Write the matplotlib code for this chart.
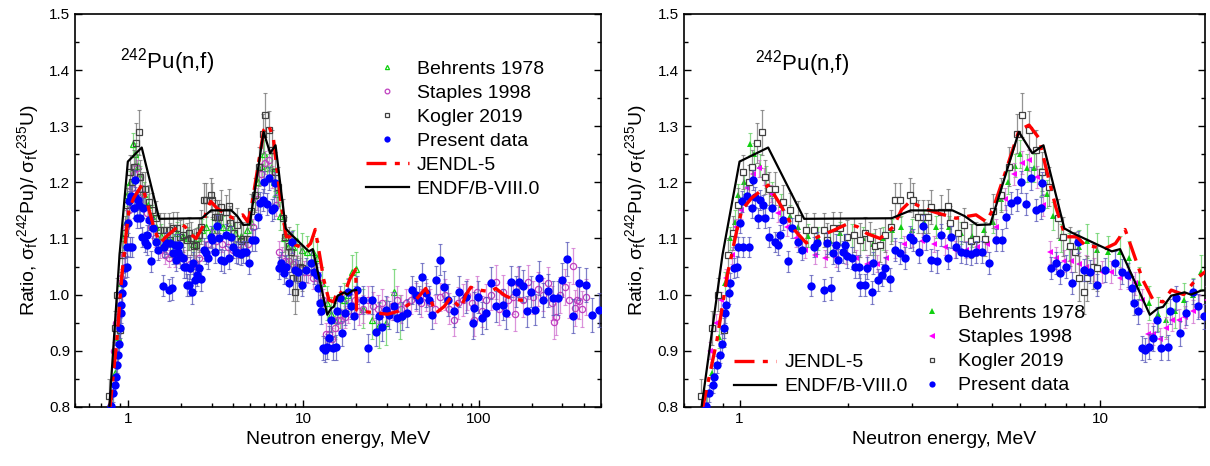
import matplotlib
matplotlib.use("Agg")
import matplotlib.pyplot as plt
import matplotlib.ticker as mticker
import numpy as np

plt.rcParams.update({
    "font.family": ["Liberation Sans", "DejaVu Sans"],
    "mathtext.fontset": "custom",
    "mathtext.rm": "Liberation Sans",
    "mathtext.it": "Liberation Sans:italic",
    "mathtext.bf": "Liberation Sans:bold",
})

# ── data: (energy MeV, ratio, uncertainty) ──────────────────────────────
PRESENT = [
    (0.805, 0.802, .015), (0.822, 0.824, .015), (0.845, 0.839, .015), (0.852, 0.854, .015),
    (0.866, 0.875, .015), (0.881, 0.893, .015), (0.894, 0.912, .018), (0.904, 0.940, .018),
    (0.913, 0.967, .018), (0.919, 0.982, .018), (0.932, 1.002, .018), (0.943, 1.020, .018),
    (0.963, 1.047, .018), (0.983, 1.050, .018), (0.988, 1.085, .018), (1.004, 1.127, .018),
    (1.015, 1.166, .018), (1.025, 1.085, .018), (1.047, 1.176, .018), (1.059, 1.085, .018),
    (1.081, 1.154, .018), (1.093, 1.204, .018), (1.104, 1.174, .018), (1.128, 1.136, .018),
    (1.140, 1.169, .018), (1.159, 1.160, .018), (1.177, 1.136, .018), (1.21, 1.103, .018),
    (1.227, 1.154, .018), (1.25, 1.094, .018), (1.28, 1.088, .018), (1.294, 1.106, .018),
    (1.32, 1.133, .018), (1.36, 1.059, .018), (1.40, 1.118, .018), (1.45, 1.094, .018),
    (1.486, 1.080, .018), (1.58, 1.016, .018), (1.61, 1.085, .018), (1.64, 1.092, .02),
    (1.71, 1.008, .02), (1.75, 1.092, .02), (1.79, 1.011, .02), (1.81, 1.074, .02),
    (1.85, 1.088, .02), (1.87, 1.062, .02), (1.94, 1.076, .02), (1.96, 1.088, .02),
    (1.99, 1.068, .02), (2.05, 1.065, .02), (2.09, 1.050, .02), (2.14, 1.050, .02),
    (2.16, 1.017, .02), (2.23, 1.017, .02), (2.25, 1.047, .02), (2.33, 1.004, .02),
    (2.35, 1.056, .02), (2.42, 1.026, .02), (2.48, 1.035, .02), (2.53, 1.047, .02),
    (2.61, 1.027, .02), (2.70, 1.080, .02), (2.79, 1.074, .02), (2.87, 1.065, .02),
    (2.97, 1.103, .02), (3.03, 1.097, .02), (3.14, 1.076, .02), (3.22, 1.122, .02),
    (3.29, 1.100, .02), (3.40, 1.062, .02), (3.52, 1.059, .02), (3.62, 1.106, .02),
    (3.78, 1.065, .02), (3.86, 1.103, .02), (3.98, 1.085, .02), (4.11, 1.076, .02),
    (4.25, 1.074, .02), (4.39, 1.072, .02), (4.52, 1.076, .02), (4.71, 1.076, .02),
    (4.92, 1.056, .02), (5.13, 1.097, .02), (5.33, 1.097, .02), (5.49, 1.139, .02),
    (5.65, 1.163, .02), (5.88, 1.169, .02), (6.01, 1.201, .02), (6.20, 1.161, .02),
    (6.40, 1.207, .02), (6.61, 1.151, .02), (6.83, 1.154, .02), (6.89, 1.198, .02),
    (7.27, 1.047, .02), (7.51, 1.056, .02), (7.74, 1.038, .02), (8.02, 1.050, .02),
    (8.33, 1.021, .02), (8.67, 1.094, .02), (8.99, 1.044, .02), (9.37, 1.041, .02),
    (9.78, 1.017, .02), (10.3, 1.044, .022), (11.0, 1.056, .022), (11.5, 1.041, .022),
    (11.9, 1.035, .022), (12.2, 1.011, .022), (12.4, 0.985, .022), (12.7, 0.970, .022),
    (13.0, 0.905, .022), (13.3, 0.901, .022), (13.6, 0.907, .022), (14.0, 0.922, .022),
    (14.3, 0.955, .022), (14.7, 0.905, .022), (15.4, 0.906, .022), (15.6, 0.970, .022),
    (16.2, 0.994, .022), (16.6, 0.931, .022), (17.3, 0.967, .022), (18.0, 1.005, .022),
    (18.6, 0.979, .022), (19.4, 0.961, .022), (20.3, 1.008, .025), (21.8, 0.990, .025),
    (23.3, 0.905, .025), (24.8, 0.990, .025), (25.9, 0.934, .025), (27.0, 0.961, .025),
    (28.2, 0.943, .025), (29.5, 0.973, .025), (30.8, 0.964, .025), (32.9, 0.979, .025),
    (34.4, 0.958, .025), (36.7, 0.961, .025), (39.2, 0.967, .025), (41.9, 1.008, .025),
    (43.7, 0.999, .025), (45.7, 0.990, .025), (47.7, 1.032, .025), (49.9, 1.002, .025),
    (52.1, 0.990, .025), (54.5, 0.964, .025), (56.9, 1.026, .025), (60.5, 1.062, .028),
    (63.6, 1.014, .028), (66.5, 0.990, .028), (72.7, 0.970, .028), (77.6, 1.005, .028),
    (84.3, 0.996, .028), (92.4, 0.949, .028), (94.5, 0.976, .028), (98.7, 0.996, .028),
    (105, 0.958, .028), (110, 0.967, .028), (117, 1.021, .028), (125, 0.979, .028),
    (137, 0.982, .028), (143, 0.967, .028), (153, 1.023, .028), (163, 1.005, .028),
    (170, 1.023, .028), (178, 1.015, .028), (189, 0.970, .028), (198, 1.005, .028),
    (208, 0.973, .028), (221, 1.030, .03), (231, 0.990, .03), (247, 1.007, .03),
    (265, 0.994, .03), (283, 0.994, .03), (298, 1.026, .03), (318, 1.063, .03),
    (344, 0.962, .03), (372, 1.020, .03), (407, 1.017, .03), (445, 0.964, .03),
    (483, 0.973, .03),
]

BEHRENTS = [
    (0.81, 0.80, .02), (0.84, 0.86, .02), (0.875, 0.924, .02), (0.91, 1.02, .02),
    (0.943, 1.10, .02), (0.97, 1.13, .02), (0.99, 1.177, .02), (1.03, 1.20, .02),
    (1.07, 1.268, .02), (1.10, 1.25, .02), (1.14, 1.23, .02), (1.18, 1.21, .02),
    (1.23, 1.18, .02), (1.30, 1.16, .02), (1.38, 1.14, .02), (1.45, 1.12, .02),
    (1.55, 1.105, .02), (1.65, 1.10, .02), (1.78, 1.095, .02), (1.9, 1.11, .02),
    (2.05, 1.105, .02), (2.2, 1.10, .02), (2.35, 1.09, .02), (2.5, 1.10, .02),
    (2.65, 1.115, .02), (2.8, 1.12, .02), (3.0, 1.115, .02), (3.25, 1.13, .02),
    (3.5, 1.12, .02), (3.8, 1.12, .02), (4.1, 1.11, .02), (4.4, 1.105, .02),
    (4.75, 1.115, .02), (5.05, 1.13, .02), (5.3, 1.17, .02), (5.55, 1.20, .02),
    (5.8, 1.23, .02), (6.0, 1.25, .025), (6.25, 1.225, .025), (6.55, 1.225, .025),
    (6.85, 1.20, .025), (7.1, 1.18, .025), (7.4, 1.14, .025), (7.75, 1.10, .025),
    (8.2, 1.085, .025), (8.7, 1.085, .03), (9.2, 1.095, .03), (9.8, 1.08, .03),
    (10.5, 1.075, .03), (11.3, 1.075, .03), (12.0, 1.065, .03), (12.8, 1.02, .03),
    (13.6, 0.985, .03), (14.4, 0.965, .03), (15.2, 0.955, .03), (16.1, 0.97, .03),
    (17.0, 0.99, .03), (18.0, 1.0, .03), (19.0, 1.04, .03), (20.0, 1.045, .03),
    (22.0, 0.975, .035), (24.5, 0.955, .035), (27.0, 0.945, .04), (29.5, 0.95, .04),
    (32.9, 1.005, .04), (35.5, 0.96, .04),
]

STAPLES = [
    (0.83, 0.90, .015), (0.86, 0.95, .015), (0.89, 0.99, .015), (0.92, 1.03, .015),
    (0.95, 1.07, .015), (0.98, 1.12, .015), (1.01, 1.15, .015), (1.05, 1.19, .015),
    (1.09, 1.215, .015), (1.13, 1.225, .015), (1.17, 1.21, .015), (1.22, 1.18, .015),
    (1.28, 1.145, .015), (1.35, 1.12, .015), (1.43, 1.10, .015), (1.52, 1.08, .015),
    (1.62, 1.07, .015), (1.72, 1.065, .015), (1.85, 1.065, .015), (1.97, 1.07, .015),
    (2.1, 1.065, .015), (2.25, 1.055, .015), (2.4, 1.055, .015), (2.55, 1.065, .015),
    (2.7, 1.08, .015), (2.85, 1.09, .015), (3.0, 1.10, .015), (3.2, 1.095, .015),
    (3.45, 1.09, .015), (3.7, 1.085, .015), (3.95, 1.08, .015), (4.25, 1.08, .015),
    (4.55, 1.085, .015), (4.85, 1.09, .015), (5.15, 1.12, .015), (5.45, 1.17, .02),
    (5.75, 1.215, .02), (6.05, 1.235, .02), (6.35, 1.24, .02), (6.65, 1.21, .02),
    (6.95, 1.16, .02), (7.25, 1.075, .02), (7.55, 1.065, .02), (7.9, 1.06, .02),
    (8.3, 1.06, .02), (8.7, 1.055, .02), (9.1, 1.05, .02), (9.6, 1.045, .02),
    (10.1, 1.04, .02), (10.7, 1.04, .02), (11.3, 1.03, .02), (11.9, 1.03, .02),
    (12.5, 1.02, .02), (13.0, 0.99, .02), (13.5, 0.93, .02), (14.0, 0.93, .02),
    (14.6, 0.92, .02), (15.2, 0.94, .02), (15.8, 0.955, .02), (16.5, 0.955, .02),
    (17.2, 0.96, .02), (18.0, 0.97, .02), (18.8, 0.98, .02), (19.7, 0.99, .025),
    (20.8, 0.97, .025), (22.0, 0.975, .025), (23.5, 0.99, .025), (25.0, 0.98, .025),
    (26.5, 0.975, .025), (28.0, 0.985, .025), (30.0, 0.97, .025), (32.0, 0.98, .025),
    (34.0, 0.99, .025), (36.0, 0.975, .025), (38.5, 0.985, .025), (41.0, 0.99, .025),
    (44.0, 0.995, .025), (47.0, 0.985, .025), (50.0, 0.995, .025), (53.0, 0.985, .025),
    (56.0, 0.975, .025), (60.0, 0.995, .025), (64.0, 1.0, .028), (68.0, 0.975, .028),
    (72.0, 0.955, .028), (76.0, 0.985, .028), (81.0, 0.99, .028), (86.0, 1.0, .028),
    (91.0, 0.985, .028), (94.0, 0.955, .028), (98.0, 1.005, .028), (104, 0.97, .028),
    (110, 0.99, .028), (117, 1.0, .028), (125, 1.023, .03), (130, 0.975, .03),
    (137, 1.005, .03), (146, 0.99, .03), (156, 0.995, .03), (160, 0.965, .03),
    (167, 1.02, .03), (178, 0.99, .03), (190, 1.022, .03), (203, 0.995, .03),
    (217, 1.01, .03), (232, 1.0, .03), (248, 1.02, .03), (262, 0.985, .03),
    (270, 0.952, .032), (275, 0.96, .032), (290, 1.0, .032), (310, 1.014, .032),
    (325, 0.99, .032), (344, 1.051, .032), (352, 0.976, .032), (365, 0.99, .032),
    (374, 0.988, .032), (390, 0.975, .032), (410, 0.995, .032),
]

KOGLER = [
    (0.78, 0.82, .03), (0.84, 0.94, .03), (0.87, 1.00, .03), (0.904, 0.937, .03),
    (0.93, 1.07, .03), (0.96, 1.11, .03), (0.99, 1.16, .03), (1.025, 1.219, .03),
    (1.059, 1.201, .03), (1.081, 1.228, .03), (1.116, 1.270, .035), (1.152, 1.289, .04),
    (1.177, 1.210, .03), (1.21, 1.189, .03), (1.25, 1.189, .03), (1.32, 1.165, .03),
    (1.38, 1.151, .03), (1.45, 1.136, .03), (1.53, 1.115, .03), (1.61, 1.115, .03),
    (1.71, 1.115, .03), (1.75, 1.097, .03), (1.81, 1.118, .03), (1.90, 1.118, .03),
    (1.99, 1.103, .03), (2.07, 1.106, .03), (2.16, 1.097, .03), (2.23, 1.109, .03),
    (2.30, 1.100, .03), (2.38, 1.086, .03), (2.45, 1.088, .03), (2.53, 1.106, .03),
    (2.62, 1.12, .03), (2.70, 1.169, .03), (2.78, 1.169, .03), (2.97, 1.178, .03),
    (3.03, 1.169, .03), (3.12, 1.139, .03), (3.22, 1.139, .03), (3.33, 1.139, .03),
    (3.40, 1.156, .03), (3.62, 1.148, .03), (3.78, 1.158, .03), (3.82, 1.127, .03),
    (4.03, 1.110, .03), (4.18, 1.124, .03), (4.39, 1.096, .03), (4.52, 1.099, .03),
    (4.78, 1.099, .03), (5.03, 1.149, .03), (5.30, 1.178, .03), (5.57, 1.228, .035),
    (5.88, 1.287, .035), (6.07, 1.320, .04), (6.34, 1.293, .035), (6.61, 1.258, .035),
    (6.89, 1.219, .035), (7.19, 1.192, .035), (7.63, 1.136, .035), (7.85, 1.103, .035),
    (8.24, 1.086, .035), (8.50, 1.076, .035), (8.72, 1.029, .04), (8.99, 1.005, .04),
    (9.18, 1.029, .04), (9.56, 1.050, .04), (9.78, 1.047, .04),
]

JENDL_E = [0.788, 0.866, 0.923, 0.983, 1.015, 1.08, 1.20, 1.29, 1.42, 1.53, 1.65, 1.83,
           1.99, 2.12, 2.25, 2.45, 2.67, 2.81, 2.97, 3.22, 3.51, 3.98, 4.52, 4.82, 5.03,
           5.42, 5.95, 6.34, 6.75, 7.05, 7.51, 8.0, 8.6, 9.06, 10.3, 11.0, 11.7, 12.2,
           13.1, 14.0, 14.9, 15.7, 17.0, 18.5, 19.9, 20.1, 21.8, 26.5, 30.2, 34.5, 38.3,
           43.6, 49.9, 53.3, 57.0, 63.6, 69.6, 74.4, 79.3, 84.3, 90, 101, 117, 125, 140,
           153, 174, 195]
JENDL_R = [0.795, 0.919, 1.032, 1.115, 1.151, 1.172, 1.195, 1.163, 1.115, 1.092, 1.103,
           1.115, 1.126, 1.121, 1.109, 1.100, 1.121, 1.151, 1.166, 1.154, 1.146, 1.136,
           1.142, 1.130, 1.151, 1.213, 1.293, 1.302, 1.279, 1.228, 1.157, 1.103, 1.103,
           1.088, 1.082, 1.091, 1.116, 1.083, 1.026, 0.990, 0.987, 1.008, 1.000, 1.029,
           1.045, 0.973, 0.970, 0.967, 0.965, 0.970, 0.979, 0.990, 1.011, 0.990, 0.967,
           0.979, 0.996, 0.984, 0.976, 0.999, 1.013, 1.008, 1.005, 1.011, 0.999, 0.993,
           0.990, 0.990]

ENDF_E = [0.785, 0.897, 1.0, 1.2, 1.51, 2.64, 2.98, 3.89, 4.2, 4.55, 4.95, 5.94, 6.47,
          6.95, 7.94, 8.35, 10.75, 11.33, 13.7, 14.45, 14.9, 15.7, 17.1, 17.8, 19.0, 20.0]
ENDF_R = [0.80, 1.071, 1.237, 1.262, 1.135, 1.136, 1.150, 1.150, 1.14, 1.124, 1.125,
          1.290, 1.252, 1.266, 1.118, 1.110, 1.077, 1.081, 0.964, 0.976, 0.978, 0.998,
          1.004, 1.000, 1.007, 1.008]

LABELS = ["Behrents 1978", "Staples 1998", "Kogler 2019", "Present data",
          "JENDL-5", "ENDF/B-VIII.0"]
X_TICKS_LEFT = [1, 10, 100]
X_TICKS_RIGHT = [1, 10]
Y_TICKS = [0.8, 0.9, 1.0, 1.1, 1.2, 1.3, 1.4, 1.5]

YLABEL = r"Ratio, σ$_\mathrm{f}$($^{242}$Pu)/ σ$_\mathrm{f}$($^{235}$U)"
XLABEL = "Neutron energy, MeV"
REACTION = r"$^{242}$Pu(n,f)"

GREEN = "#10d010"
MAGENTA = "#ff00ff"
GREY = "#404040"
BLUE = "#0000ff"


def draw_panel(ax, styles, xlim, xticks):
    series = [BEHRENTS, STAPLES, KOGLER, PRESENT]
    for data, st, lab in zip(series, styles, LABELS[:4]):
        e, r, s = np.array(data).T
        ax.errorbar(e, r, yerr=s, fmt="none", ecolor=st["ecolor"], elinewidth=0.9,
                    capsize=1.5, capthick=0.8, alpha=0.75, zorder=st["z"])
        ax.plot(e, r, ls="none", label=lab, zorder=st["z"] + 0.5, **st["marker"])
    ax.plot(JENDL_E, JENDL_R, color="red", ls=(0, (6, 2.5, 1.5, 2.5)), lw=2.4,
            label=LABELS[4], zorder=8)
    ax.plot(ENDF_E, ENDF_R, color="black", lw=1.6, label=LABELS[5], zorder=9)

    ax.set_xscale("log")
    ax.set_xlim(*xlim)
    ax.set_ylim(0.8, 1.5)
    ax.set_xticks(xticks)
    ax.set_xticklabels([str(t) for t in xticks])
    ax.xaxis.set_minor_locator(mticker.LogLocator(base=10, subs=np.arange(2, 10)))
    ax.xaxis.set_minor_formatter(mticker.NullFormatter())
    ax.set_yticks(Y_TICKS)
    ax.yaxis.set_major_formatter(mticker.FormatStrFormatter("%.1f"))
    ax.yaxis.set_minor_locator(mticker.MultipleLocator(0.05))
    ax.tick_params(which="both", direction="in", right=True, top=False, labelsize=11,
                   width=1.0)
    ax.tick_params(which="major", length=5)
    ax.tick_params(which="minor", length=3)
    for sp in ax.spines.values():
        sp.set_linewidth(1.2)
    ax.set_xlabel(XLABEL, fontsize=14, labelpad=4)
    ax.set_ylabel(YLABEL, fontsize=14, labelpad=6)


fig = plt.figure(figsize=(12.1, 4.66), dpi=100)
ax_l = fig.add_axes([0.062, 0.127, 0.435, 0.843])
ax_r = fig.add_axes([0.565, 0.127, 0.431, 0.843])

styles_left = [
    dict(ecolor="#60d060", z=2, marker=dict(marker="^", ms=4, mfc="none", mec=GREEN, mew=0.9)),
    dict(ecolor="#d070d0", z=3, marker=dict(marker="o", ms=4.5, mfc="none", mec="#c040c0", mew=0.9)),
    dict(ecolor="#707070", z=4, marker=dict(marker="s", ms=4, mfc="none", mec=GREY, mew=0.9)),
    dict(ecolor="#5555b8", z=5, marker=dict(marker="o", ms=6, mfc=BLUE, mec=BLUE, mew=0)),
]
styles_right = [
    dict(ecolor="#60d060", z=2, marker=dict(marker="^", ms=5, mfc=GREEN, mec=GREEN, mew=0)),
    dict(ecolor="#d070d0", z=3, marker=dict(marker="<", ms=5, mfc=MAGENTA, mec=MAGENTA, mew=0)),
    dict(ecolor="#707070", z=4, marker=dict(marker="s", ms=4.5, mfc="white", mec=GREY, mew=0.9)),
    dict(ecolor="#5555b8", z=5, marker=dict(marker="o", ms=6, mfc=BLUE, mec=BLUE, mew=0)),
]

draw_panel(ax_l, styles_left, (0.5, 500), X_TICKS_LEFT)
draw_panel(ax_r, styles_right, (0.7, 19.5), X_TICKS_RIGHT)

ax_l.text(0.085, 0.878, REACTION, transform=ax_l.transAxes, fontsize=16, va="center")
ax_r.text(0.136, 0.875, REACTION, transform=ax_r.transAxes, fontsize=16, va="center")

h, l = ax_l.get_legend_handles_labels()
ax_l.legend(h, l, loc="upper left", bbox_to_anchor=(0.553, 0.882), frameon=False,
            fontsize=14, borderpad=0, borderaxespad=0, handlelength=2.2,
            handletextpad=0.4, labelspacing=0.33, markerscale=0.75)

h, l = ax_r.get_legend_handles_labels()
leg1 = ax_r.legend(h[4:], l[4:], loc="upper left", bbox_to_anchor=(0.096, 0.135),
                   frameon=False, fontsize=14, borderpad=0, borderaxespad=0,
                   handlelength=2.2, handletextpad=0.4, labelspacing=0.33)
ax_r.add_artist(leg1)
ax_r.legend(h[:4], l[:4], loc="upper left", bbox_to_anchor=(0.436, 0.26),
            frameon=False, fontsize=14, borderpad=0, borderaxespad=0,
            handlelength=2.2, handletextpad=0.2, labelspacing=0.33, markerscale=0.75)

fig.savefig("out.png", dpi=100)
